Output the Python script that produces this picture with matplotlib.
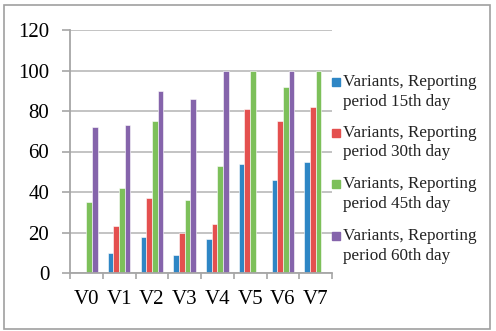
import matplotlib
matplotlib.use("Agg")
import matplotlib.pyplot as plt
import numpy as np
from matplotlib.patches import Rectangle

categories = ["V0", "V1", "V2", "V3", "V4", "V5", "V6", "V7"]
series_labels = [
    "Variants, Reporting\nperiod 15th day",
    "Variants, Reporting\nperiod 30th day",
    "Variants, Reporting\nperiod 45th day",
    "Variants, Reporting\nperiod 60th day",
]
day15 = [0, 10, 18, 9, 17, 54, 46, 55]
day30 = [0, 23, 37, 20, 24, 81, 75, 82]
day45 = [35, 42, 75, 36, 53, 100, 92, 100]
day60 = [72, 73, 90, 86, 100, 0, 100, 0]
yticks = [0, 20, 40, 60, 80, 100, 120]

colors = ["#2E86C5", "#E4504F", "#7DC05A", "#8564AB"]
series = [day15, day30, day45, day60]

plt.rcParams['font.family'] = ['Liberation Serif', 'DejaVu Serif']

W, H = 496, 331
fig = plt.figure(figsize=(W / 100, H / 100), dpi=100)

def fx(px):
    return px / W

def fy(py):
    return 1 - py / H

ax = fig.add_axes([fx(70), fy(273), fx(332) - fx(70), fy(30) - fy(273)])

x = np.arange(len(categories))
bw = 0.172
offsets = [-1.5, -0.5, 0.5, 1.5]
for vals, off, c in zip(series, offsets, colors):
    ax.bar(x + off * bw, vals, width=bw, color=c, edgecolor="white", linewidth=0.4, zorder=3)

ax.set_xlim(-0.5, len(categories) - 0.5)
ax.set_ylim(0, 120)
ax.set_yticks(yticks)
ax.set_yticklabels([str(v) for v in yticks], fontsize=15)
ax.yaxis.grid(True, color="#BEBEBE", linewidth=1.3, zorder=0)
ax.set_axisbelow(True)

ax.set_xticks(x)
ax.set_xticklabels(categories, fontsize=15)
ax.set_xticks(np.arange(-0.5, len(categories)), minor=True)
ax.tick_params(axis="x", which="major", length=0, pad=12)
ax.tick_params(axis="x", which="minor", length=4, color="#A6A6A6", width=1.2, direction="out")
ax.tick_params(axis="y", length=6, color="#A6A6A6", width=1.2, pad=9)

for s in ["top", "right"]:
    ax.spines[s].set_visible(False)
for s in ["left", "bottom"]:
    ax.spines[s].set_color("#A6A6A6")
    ax.spines[s].set_linewidth(1.3)
ax.spines["bottom"].set_zorder(4)

# legend (manual, marker aligned with first line)
starts = [82, 133, 184, 236]
for lab, c, yc in zip(series_labels, colors, starts):
    fig.patches.append(Rectangle((fx(332), fy(yc + 4)), fx(8), fy(yc - 4) - fy(yc + 4),
                                 transform=fig.transFigure, color=c, figure=fig))
    lines = lab.split("\n")
    for k, ln in enumerate(lines):
        fig.text(fx(343), fy(yc + k * 19.5), ln, fontsize=12.3, va="center", ha="left", color="#222222")

# outer border
fig.patches.append(Rectangle((fx(4), fy(329)), fx(486), fy(5) - fy(329), transform=fig.transFigure,
                             fill=False, edgecolor="#A0A0A0", linewidth=1.2, figure=fig))

fig.savefig("out.png", dpi=100)
